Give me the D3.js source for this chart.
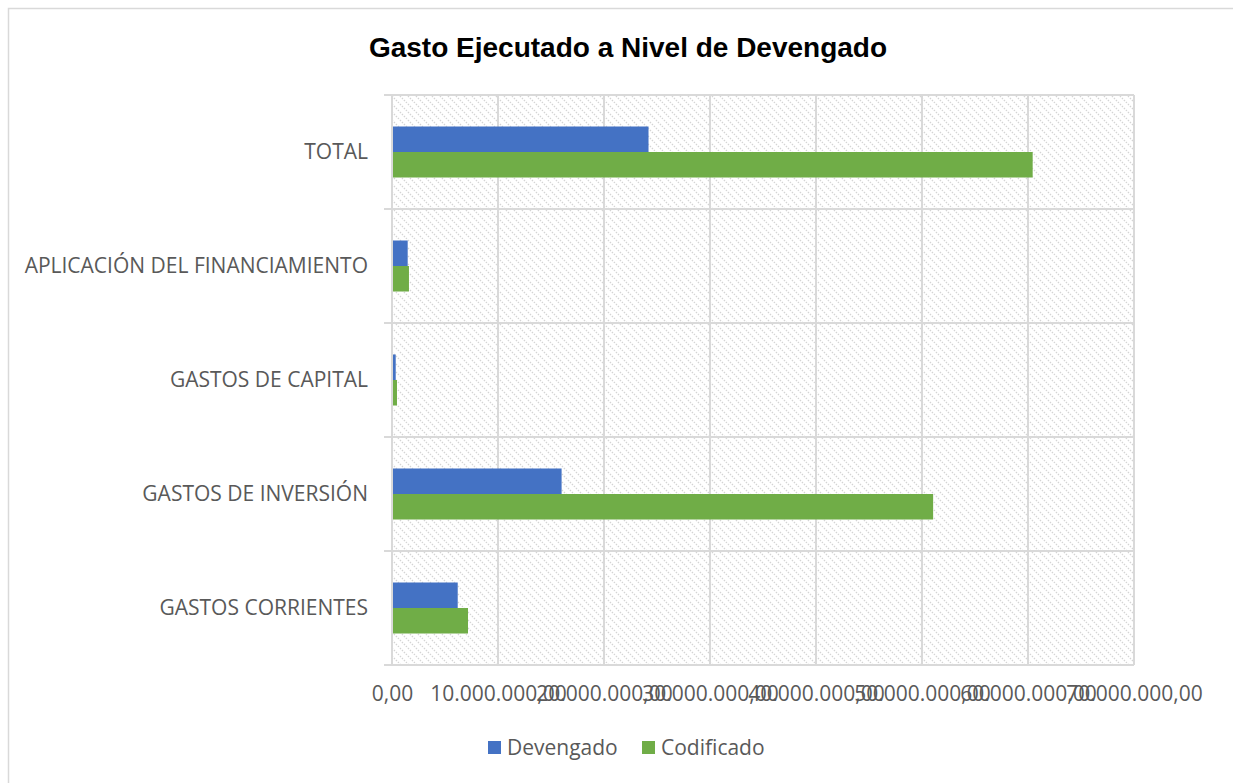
<!DOCTYPE html>
<html>
<head>
<meta charset="utf-8">
<script src="https://cdn.jsdelivr.net/npm/d3@7"></script>
<style>
  html, body { margin: 0; padding: 0; background: #fff; }
  svg { display: block; }
</style>
</head>
<body>
<svg id="chart" width="1233" height="783"></svg>
<script>
// ---- data ----
const categories = ["TOTAL", "APLICACIÓN DEL FINANCIAMIENTO", "GASTOS DE CAPITAL", "GASTOS DE INVERSIÓN", "GASTOS CORRIENTES"];
const seriesNames = ["Devengado", "Codificado"];
const devengado = [24200000, 1480000, 350000, 16000000, 6200000];
const codificado = [60440000, 1600000, 470000, 51050000, 7170000];
const xTicks = [0, 10000000, 20000000, 30000000, 40000000, 50000000, 60000000, 70000000];
const colors = ["#4472c4", "#70ad47"];

const svg = d3.select("#chart");
const W = 1233, H = 783;

// chart border
svg.append("rect").attr("x", 8.5).attr("y", 8.5).attr("width", W + 10).attr("height", H + 10)
  .attr("fill", "#fff").attr("stroke", "#d9d9d9").attr("stroke-width", 1.5);

// hatch pattern
const defs = svg.append("defs");
const pat = defs.append("pattern").attr("id", "hatch").attr("patternUnits", "userSpaceOnUse")
  .attr("width", 8).attr("height", 8);
pat.append("rect").attr("width", 8).attr("height", 8).attr("fill", "#fff");
pat.append("path").attr("d", "M-2,-2 L10,10 M-2,6 L2,10 M6,-2 L10,2")
  .attr("stroke", "#d4d4d4").attr("stroke-width", 1.3).attr("stroke-dasharray", "1.4,1.4");

const m = { left: 392, right: 1134, top: 95, bottom: 665 };

const x = d3.scaleLinear().domain([0, 70000000]).range([m.left, m.right]);
const y = d3.scaleBand().domain(categories).range([m.top, m.bottom]);
const inner = d3.scaleBand().domain(seriesNames).range([0, y.bandwidth()]).paddingInner(0).paddingOuter(1.235);

// plot background
svg.append("rect").attr("x", m.left).attr("y", m.top).attr("width", m.right - m.left).attr("height", m.bottom - m.top)
  .attr("fill", "url(#hatch)");

// vertical gridlines
svg.append("g").selectAll("line").data(xTicks).join("line")
  .attr("x1", d => x(d)).attr("x2", d => x(d)).attr("y1", m.top).attr("y2", m.bottom)
  .attr("stroke", "#d9d9d9").attr("stroke-width", 2);

// horizontal category separators (with outward ticks)
const seps = categories.map(c => y(c)).concat([m.bottom]);
svg.append("g").selectAll("line").data(seps).join("line")
  .attr("x1", m.left - 8).attr("x2", m.right).attr("y1", d => d).attr("y2", d => d)
  .attr("stroke", "#d9d9d9").attr("stroke-width", 2);

// bars
const data = [devengado, codificado];
seriesNames.forEach((s, si) => {
  svg.append("g").selectAll("rect").data(categories).join("rect")
    .attr("x", x(0))
    .attr("y", c => y(c) + inner(s))
    .attr("width", (c, i) => x(data[si][i]) - x(0))
    .attr("height", inner.bandwidth())
    .attr("fill", colors[si]);
});

// y axis line
svg.append("line").attr("x1", m.left).attr("x2", m.left).attr("y1", m.top).attr("y2", m.bottom + 1)
  .attr("stroke", "#d9d9d9").attr("stroke-width", 2);

// x axis labels
const fmt = v => d3.format(",.2f")(v).replace(/,/g, "#").replace(/\./g, ",").replace(/#/g, ".");
const xAxis = d3.axisBottom(x).tickValues(xTicks).tickFormat(fmt).tickSize(0).tickPadding(0);
const gx = svg.append("g").attr("transform", `translate(0,${m.bottom})`).call(xAxis);
gx.select(".domain").remove();
gx.selectAll("text").attr("font-family", "'Open Sans', sans-serif").attr("font-size", 21)
  .attr("fill", "#595959").attr("y", 29).attr("dy", "0.35em");

// y axis labels
const yAxis = d3.axisLeft(y).tickSize(0).tickPadding(24);
const gy = svg.append("g").attr("transform", `translate(${m.left},0)`).call(yAxis);
gy.select(".domain").remove();
gy.selectAll("text").attr("font-family", "'Open Sans', sans-serif").attr("font-size", 21)
  .attr("fill", "#595959");

// title
svg.append("text").attr("x", 628).attr("y", 57).attr("text-anchor", "middle")
  .attr("font-family", "'Liberation Sans', Arial, sans-serif").attr("font-weight", "bold").attr("font-size", 28)
  .attr("fill", "#000").text("Gasto Ejecutado a Nivel de Devengado");

// legend
const legX = [488, 642];
seriesNames.forEach((s, i) => {
  const g = svg.append("g").attr("transform", `translate(${legX[i]},741)`);
  g.append("rect").attr("width", 13).attr("height", 13).attr("fill", colors[i]);
  g.append("text").attr("x", 19).attr("y", 6.5).attr("dy", "0.35em")
    .attr("font-family", "'Open Sans', sans-serif").attr("font-size", 21).attr("fill", "#595959").text(s);
});
</script>
</body>
</html>
